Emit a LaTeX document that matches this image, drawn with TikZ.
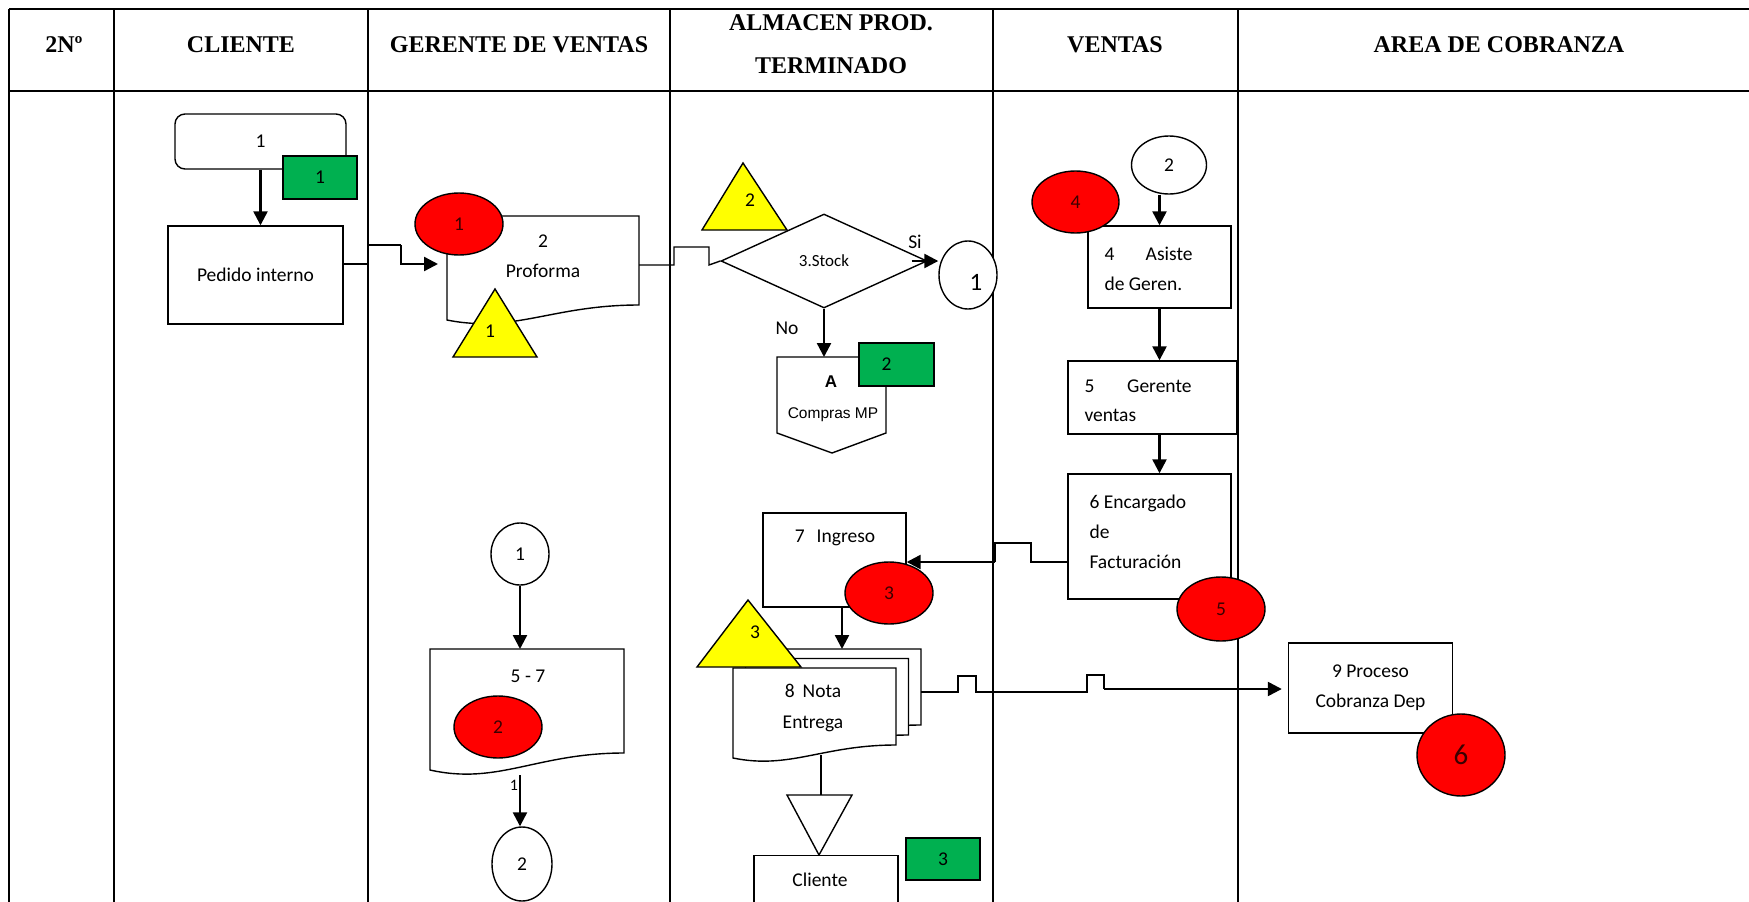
\documentclass[tikz,border=0pt]{standalone}
\usepackage{fontspec}
\setmainfont{Carlito}
\newfontfamily\hdrfont{Liberation Serif}
\newfontfamily\arialf{Liberation Sans}
\usetikzlibrary{arrows.meta,shapes.geometric}
\definecolor{myred}{HTML}{FF0000}
\definecolor{myyel}{HTML}{FFFF00}
\definecolor{mygrn}{HTML}{00B050}
\definecolor{numred}{HTML}{3A0000}
\newcommand\mydoc[5]{(#1,#2) -- (#3,#2) -- (#3,#5) .. controls ({#3-0.45*(#3-#1)},#5) and ({#1+0.35*(#3-#1)},{#4+0.9*(#4-#5)}) .. (#1,#4) -- cycle}
\tikzset{
 lane/.style={line width=2.2pt},
 shp/.style={draw, line width=1.4pt, inner sep=0pt},
 box/.style={shp, rectangle, fill=white},
 redell/.style={shp, ellipse, fill=myred, text=numred},
 whell/.style={shp, ellipse, fill=white},
 grn/.style={shp, rectangle, fill=mygrn},
 tri/.style={draw, line width=1.4pt, fill=myyel},
 conn/.style={line width=1.4pt},
 arr/.style={line width=2.4pt, -{Triangle[length=14pt,width=14pt]}},
 hdr/.style={font=\hdrfont\bfseries\fontsize{24}{43}\selectfont, align=center},
 txt/.style={font=\fontsize{19.5}{26}\selectfont},
}
\begin{document}
\begin{tikzpicture}[x=1pt,y=-1pt]
\useasboundingbox (0,0) rectangle (1749,902);
% table
\draw[lane] (9,9) -- (1749,9);
\draw[lane] (9,91) -- (1749,91);
\foreach \xx in {9,114,368,670,993,1238} \draw[lane] (\xx,9) -- (\xx,902);
\node[hdr] (h1) at (64,45) {2Nº};
\node[hdr] (h2) at (241,45) {CLIENTE};
\node[hdr] (h3) at (519,45) {GERENTE DE VENTAS};
\node[hdr] (h4) at (831,44) {ALMACEN PROD.\\TERMINADO};
\node[hdr] (h5) at (1115,45) {VENTAS};
\node[hdr] (h6) at (1499,45) {AREA DE COBRANZA};

% cliente
\node[box, rounded corners=10pt, minimum width=171pt, minimum height=55pt, txt] (start) at (260.5,141.5) {1};
\node[grn, minimum width=74pt, minimum height=43pt, txt] (g1) at (320,177.5) {1};
\node[box, minimum width=175pt, minimum height=98pt, txt] (pedido) at (255.5,275) {Pedido interno};
\draw[arr] (start.south) -- (start.south |- pedido.north);

% proforma
\draw[shp, fill=white] \mydoc{447}{216}{639}{320}{305};
\node[font=\fontsize{19.5}{30}\selectfont, align=center] (prof) at (543,256) {2\\Proforma};
\coordinate (prof-in) at (438,264);
\coordinate (prof-out) at (639,265);
\draw[conn] ([yshift=11pt]pedido.east) -- (368,264) -- (368,245) -- (401,245);
\draw[arr] (401,245) -- (401,264) -- (prof-in);
\node[redell, minimum width=88pt, minimum height=62pt, txt] (r1) at (459,224) {1};
\draw[tri] (453,357) -- (495,289) -- (537,357) -- cycle;
\node[txt] (t1) at (490,331) {1};

% almacen top
\node[shp, diamond, fill=white, minimum width=206pt, minimum height=94pt, font=\fontsize{17}{20}\selectfont] (dia) at (824,261) {3.Stock};
\draw[conn] (prof-out) -- (674,265) -- (674,247) -- (709,247) -- (709,265) -- (dia.west);
\draw[tri] (702,230) -- (743,163) -- (787,230) -- cycle;
\node[txt] (t2) at (750,200) {2};
\node[txt] (si) at (915,242) {Si};
\node[whell, minimum width=58pt, minimum height=68pt] (c1) at (968,275) {};
\node[font=\fontsize{25}{30}\selectfont] (c1t) at (976,282) {1};
\draw[arr] ([xshift=-16pt]dia.east) -- (dia.east -| c1.west);
\node[txt] (no) at (787,328) {No};
\draw[shp, fill=white] (777,357) -- (886,357) -- (886,433) -- (832,453) -- (777,433) -- cycle;
\coordinate (offA-n) at (824,357);
\draw[arr] (dia.south) -- (offA-n);
\node[font=\arialf\bfseries\fontsize{17}{20}\selectfont] (offA-a) at (831,382) {A};
\node[font=\arialf\fontsize{15.5}{18}\selectfont] (offA-t) at (833,415) {Compras MP};
\node[grn, minimum width=75pt, minimum height=43pt, txt] (g2) at (896.5,364.5) {2\hspace*{20pt}};

% ventas
\node[whell, minimum width=75pt, minimum height=58pt, txt] (c2) at (1169,165) {2};
\node[box, minimum width=143pt, minimum height=82pt] (b4) at (1159.5,267) {};
\node[font=\fontsize{19.5}{30}\selectfont, align=left, anchor=west] (b4t) at (1101,269) {\makebox[88pt][s]{4 Asiste}\\de Geren.};
\node[redell, minimum width=87pt, minimum height=62pt, txt] (r4) at (1075.5,202) {4};
\draw[arr] (b4.north |- c2.south) -- (b4.north);
\node[box, minimum width=169pt, minimum height=73pt] (b5) at (1152.5,397.5) {};
\node[font=\fontsize{19.5}{29}\selectfont, align=left, anchor=west] (b5t) at (1081,401) {\makebox[107pt][s]{5 Gerente}\\ventas};
\draw[arr] (b4.south) -- (b4.south |- b5.north);
\node[box, minimum width=163pt, minimum height=125pt] (b6) at (1149.5,536.5) {};
\node[font=\fontsize{19.5}{30}\selectfont, align=left, anchor=west] (b6t) at (1086,532) {6 Encargado\\de\\Facturación};
\draw[arr] (b4.south |- b5.south) -- (b4.south |- b6.north);
\node[redell, minimum width=88pt, minimum height=64pt, txt] (r5) at (1221,609) {5};

% almacen bottom
\node[box, minimum width=143pt, minimum height=94pt] (ing) at (834.5,560) {};
\node[txt] (ingt) at (835,538) {7\hspace{12pt}Ingreso};
\draw[conn] ([yshift=-25.5pt]b6.west) -- (1031,562) -- (1031,543) -- (995,543) -- (995,562);
\draw[arr] (995,562) -- (ing.east |- 995,562);
\node[redell, minimum width=88pt, minimum height=62pt, txt] (r3) at (889,593) {3};
\coordinate (md-n) at (842,649);
\draw[arr] (ing.south -| md-n) -- (md-n);
\draw[shp, fill=white] \mydoc{758}{649}{921}{738}{725};
\draw[shp, fill=white] \mydoc{745.5}{658.5}{908.5}{748}{735};
\draw[shp, fill=white] \mydoc{733}{668}{896}{758}{745};
\node[font=\fontsize{19.5}{31}\selectfont, align=center] (mdt) at (813,708) {8\hspace{8pt}Nota\\Entrega};
\draw[tri] (697,667) -- (748,600) -- (801,667) -- cycle;
\node[txt] (t3) at (755,632) {3};
\coordinate (md-e) at (921,692);
\node[box, minimum width=164pt, minimum height=90pt, font=\fontsize{19.5}{30}\selectfont, align=center] (b9) at (1370.5,688) {9 Proceso\\Cobranza Dep};
\draw[conn] (md-e) -- (958,692) -- (958,676) -- (976,676) -- (976,692) -- (1087,692) -- (1087,675) -- (1104,675) -- (1104,689);
\draw[arr] (1104,689) -- ([xshift=-6pt]b9.west |- 1104,689);
\node[redell, minimum width=88pt, minimum height=82pt, font=\fontsize{29}{34}\selectfont] (r6) at (1461,755) {6};

\coordinate (md-s) at (821,755);
\coordinate (inv-n) at (821,795);
\draw[conn] (md-s) -- (inv-n);
\draw[shp, fill=white] (787,795) -- (852,795) -- (819,855) -- cycle;
\node[box, minimum width=144pt, minimum height=80pt, anchor=north] (cli) at (826,855) {};
\node[txt] (clit) at (820,880) {Cliente};
\node[grn, minimum width=74pt, minimum height=42pt, txt] (g3) at (943,859) {3};

% gerente bottom
\node[whell, minimum width=58pt, minimum height=62pt, txt] (cg1) at (520,554) {1};
\coordinate (d57-n) at (520,649);
\coordinate (d57-s) at (520,775);
\draw[arr] (cg1.south) -- (d57-n);
\draw[shp, fill=white] \mydoc{430}{649}{624}{770}{753};
\node[txt] (d57t) at (528,676) {5 - 7};
\node[redell, minimum width=88pt, minimum height=62pt, txt] (r2) at (498,727) {2};
\node[font=\fontsize{16}{18}\selectfont] (lbl1) at (514,785) {1};
\node[whell, minimum width=60pt, minimum height=74pt, txt] (cg2) at (522,864) {2};
\draw[arr] (d57-s) -- (d57-s |- cg2.north);
\end{tikzpicture}
\end{document}
